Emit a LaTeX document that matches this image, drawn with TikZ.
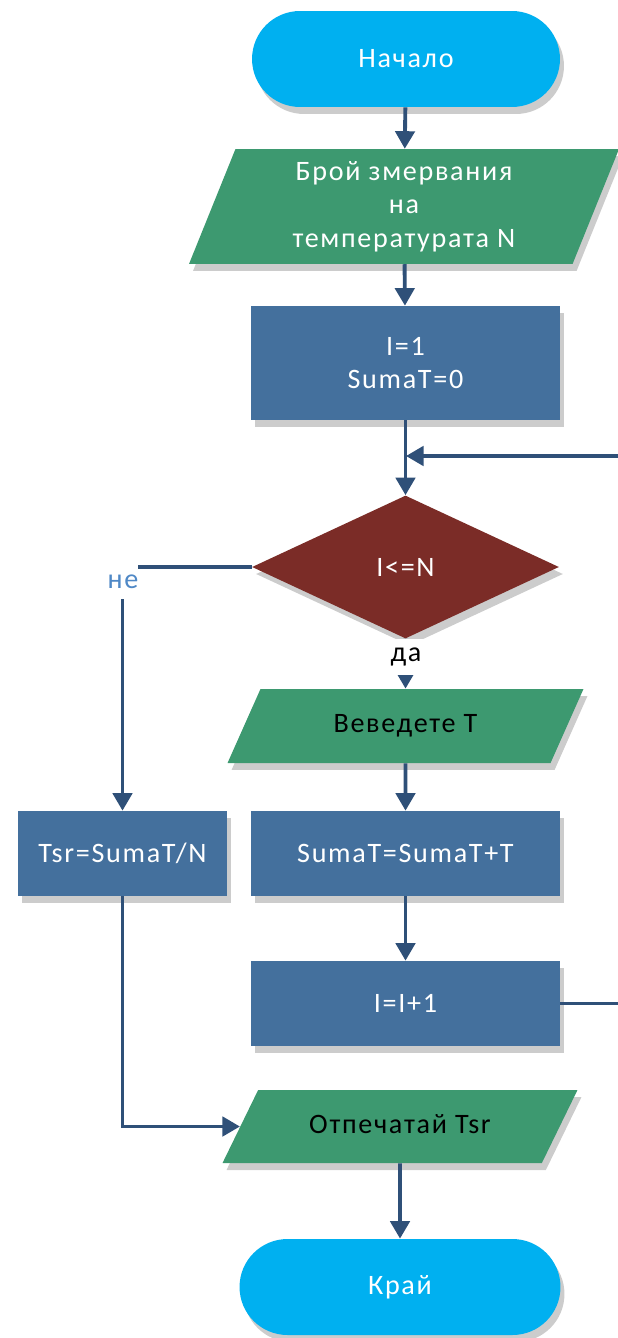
\documentclass[tikz,border=0pt]{standalone}
\usepackage{fontspec}
\setmainfont[LetterSpace=6]{Carlito}
\usetikzlibrary{shapes.geometric,shapes.misc,arrows.meta,shadows}
\definecolor{termblue}{HTML}{00B0F0}
\definecolor{iogreen}{HTML}{3D9970}
\definecolor{procblue}{HTML}{44709D}
\definecolor{condred}{HTML}{7B2C27}
\definecolor{linkblue}{HTML}{2F5078}
\definecolor{noblue}{HTML}{4F88C6}
\tikzset{
	base/.style={font=\fontsize{16}{19}\selectfont, align=center, inner sep=0pt,
		drop shadow={shadow xshift=0.08cm, shadow yshift=-0.14cm, fill=black!20, opacity=1}},
	term/.style={base, rounded rectangle, fill=termblue, text=white, minimum height=1.92cm},
	iobox/.style={base, trapezium, trapezium left angle=#1, trapezium right angle=180-#1,
		trapezium stretches body=true, fill=iogreen},
	oneline/.style={text height=0.37cm, text depth=0.1cm, inner ysep=#1},
	proc/.style={base, rectangle, fill=procblue, text=white},
	cond/.style={base, diamond, fill=condred, text=white},
	link/.style={draw=linkblue, line width=2.2pt, -{Triangle[width=11pt,length=10pt]}},
	lbl/.style={fill=white, inner sep=0pt, font=\fontsize{16}{19}\selectfont}
}
\begin{document}
\begin{tikzpicture}[x=0.02cm, y=-0.02cm]
	\useasboundingbox (0,0) rectangle (618,1338);
	\node[term, minimum width=6.16cm] (start) at (406,59) {Начало};
	\node[iobox=68, text=white, minimum width=8.6cm, inner ysep=0.245cm] (count) at (404,206.5)
		{Брой змервания\\на\\температурата N};
	\node[proc, minimum width=6.18cm, minimum height=2.28cm] (init) at (405.5,363) {I=1\\SumaT=0};
	\node[cond, minimum width=6.14cm, minimum height=2.86cm] (check) at (405.5,567) {I<=N};
	\node[iobox=66, oneline=0.505cm, text=black, minimum width=7.12cm] (read) at (405.5,726) {Веведете Т};
	\node[proc, minimum width=6.18cm, minimum height=1.7cm] (sum) at (405.5,853.5) {SumaT=SumaT+T};
	\node[proc, minimum width=4.18cm, minimum height=1.7cm] (avg) at (122.5,853.5) {Tsr=SumaT/N};
	\node[proc, minimum width=6.18cm, minimum height=1.7cm] (inc) at (405.5,1003.5) {I=I+1};
	\node[iobox=64, oneline=0.495cm, text=black, minimum width=7.1cm] (print) at (400,1126.5) {Отпечатай Tsr};
	\node[term, minimum width=6.42cm] (stop) at (400,1287) {Край};
	\coordinate (loopin) at (406,456);

	\draw[link] (start) -- (count);
	\draw[link] (count) -- (init);
	\draw[link] (init) -- (check);
	\draw[link] (check) -- (read);
	\draw[link] (read) -- (sum);
	\draw[link] (sum) -- (inc);
	\draw[link] (check.west) -| (avg.north);
	\draw[link] (avg.south) |- (print.west);
	\draw[link] (inc.east) -- ++(64,0) |- (loopin);
	\draw[link] (print) -- (stop);

	\node[lbl, text=noblue, minimum width=0.6cm, minimum height=0.68cm] (no) at (123,582) {не};
	\node[lbl, text=black, minimum width=0.66cm, minimum height=0.72cm] (yes) at (406,657) {да};
\end{tikzpicture}
\end{document}
